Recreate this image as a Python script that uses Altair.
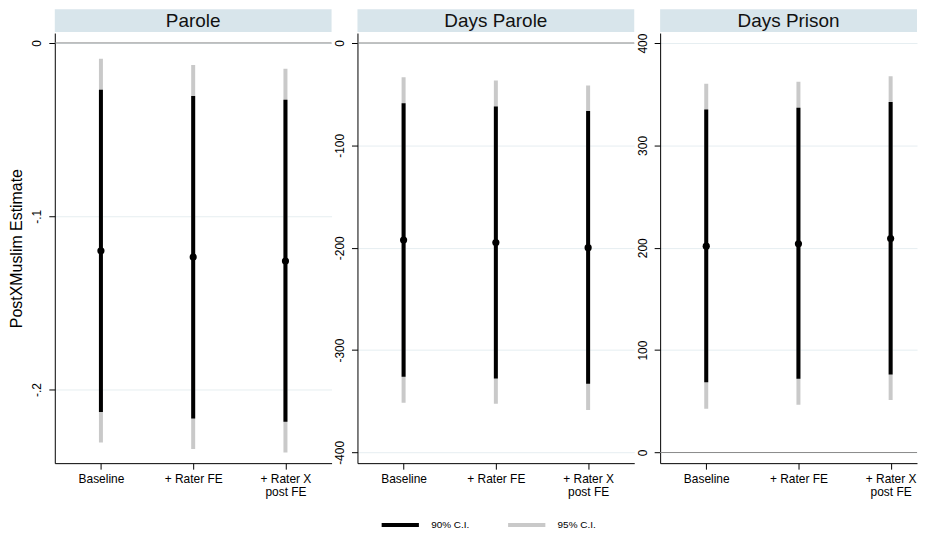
import json
import altair as alt
import pandas as pd

# ---------------- data ----------------
models = ["Baseline", "+ Rater FE", "+ Rater X post FE"]
model_label_lines = ["Baseline", "+ Rater FE", ["+ Rater X", "post FE"]]
outcomes = ["Parole", "Days Parole", "Days Prison"]
ci_levels = ["90% C.I.", "95% C.I."]

parole_est = [-0.1200, -0.1236, -0.1259]
parole_lo90 = [-0.2130, -0.2167, -0.2186]
parole_hi90 = [-0.0270, -0.0307, -0.0328]
parole_lo95 = [-0.2306, -0.2343, -0.2364]
parole_hi95 = [-0.0092, -0.0128, -0.0149]

dparole_est = [-192.6, -194.9, -200.0]
dparole_lo90 = [-326.2, -327.8, -333.0]
dparole_hi90 = [-59.0, -62.0, -66.4]
dparole_lo95 = [-351.5, -352.5, -358.6]
dparole_hi95 = [-33.4, -36.7, -41.5]

dprison_est = [201.6, 203.9, 209.1]
dprison_lo90 = [68.7, 72.0, 76.2]
dprison_hi90 = [335.2, 336.9, 342.4]
dprison_lo95 = [42.8, 46.7, 51.2]
dprison_hi95 = [360.2, 362.2, 367.7]

parole_ticks = [-0.2, -0.1, 0]
dparole_ticks = [-400, -300, -200, -100, 0]
dprison_ticks = [0, 100, 200, 300, 400]

series = {
    "Parole": (parole_est, parole_lo90, parole_hi90, parole_lo95, parole_hi95),
    "Days Parole": (dparole_est, dparole_lo90, dparole_hi90, dparole_lo95, dparole_hi95),
    "Days Prison": (dprison_est, dprison_lo90, dprison_hi90, dprison_lo95, dprison_hi95),
}
ticks = {"Parole": parole_ticks, "Days Parole": dparole_ticks, "Days Prison": dprison_ticks}

# ---------------- styling ----------------
FONT = "Liberation Sans"
HEADER_FILL = "#d8e5eb"
GRID = "#e6eef1"
ZERO = "#8c8c8c"
CI_COLORS = ["#000000", "#c9c9c9"]
PLOT_H = 432
widths = {"Parole": 278, "Days Parole": 278, "Days Prison": 258}
y_domains = {"Parole": [-0.2425, 0.0057], "Days Parole": [-410.5, 9.7], "Days Prison": [-10.4, 409.8]}
x_domains = {"Parole": [-0.5, 2.5], "Days Parole": [-0.5, 2.5], "Days Prison": [-0.5, 2.286]}

x_label_expr = json.dumps(model_label_lines) + "[datum.value]"


def panel(name, first):
    est, lo90, hi90, lo95, hi95 = series[name]
    w = widths[name]
    pts = pd.DataFrame({"idx": list(range(len(models))), "model": models, "est": est})
    rows = []
    for i, m in enumerate(models):
        rows.append({"idx": i, "model": m, "ci": ci_levels[1], "lo": lo95[i], "hi": hi95[i]})
    for i, m in enumerate(models):
        rows.append({"idx": i, "model": m, "ci": ci_levels[0], "lo": lo90[i], "hi": hi90[i]})
    cis = pd.DataFrame(rows)

    if name == "Parole":
        lab = "replace('' + datum.value, '-0.', '-.')"
    else:
        lab = "'' + datum.value"

    yaxis = alt.Axis(
        values=ticks[name], labelExpr=lab,
        title="PostXMuslim Estimate" if first else None,
        titleFontSize=16, titleFontWeight="normal", titleColor="#000", titleFont=FONT,
        titlePadding=6,
        labelAngle=270, labelAlign="center", labelBaseline="bottom",
        labelFontSize=12, labelFont=FONT, labelColor="#000", labelPadding=5,
        tickSize=6, tickColor="#000", domainColor="#000",
        grid=True, gridColor=GRID, gridWidth=1,
    )
    xaxis = alt.Axis(
        values=list(range(len(models))), labelExpr=x_label_expr, title=None,
        labelFontSize=12, labelFont=FONT, labelColor="#000", labelPadding=4,
        labelLineHeight=13, tickSize=6, tickColor="#000", domainColor="#000", grid=False,
    )
    xs = alt.Scale(domain=x_domains[name], nice=False, zero=False)
    ys = alt.Scale(domain=y_domains[name], nice=False, zero=False)

    rules = alt.Chart(cis).mark_rule(strokeWidth=4, strokeCap="butt").encode(
        x=alt.X("idx:Q", scale=xs, axis=xaxis),
        y=alt.Y("lo:Q", scale=ys, axis=yaxis),
        y2="hi:Q",
        color=alt.Color(
            "ci:N",
            scale=alt.Scale(domain=ci_levels, range=CI_COLORS),
            legend=alt.Legend(
                orient="none", legendX=326, legendY=473, direction="horizontal",
                title=None, symbolType="stroke", symbolStrokeWidth=4, symbolSize=1400,
                labelFontSize=10, labelFont=FONT, labelColor="#000",
                columnPadding=30, labelOffset=10, padding=0,
            ),
        ),
    )
    zero = alt.Chart(pd.DataFrame({"z": [0]})).mark_rule(color=ZERO, strokeWidth=1).encode(
        y=alt.Y("z:Q", scale=ys)
    )
    points = alt.Chart(pts).mark_circle(size=52, color="#000", opacity=1).encode(
        x=alt.X("idx:Q", scale=xs), y=alt.Y("est:Q", scale=ys)
    )
    head_df = pd.DataFrame({"t": [name]})
    header = alt.Chart(head_df).mark_rect(color=HEADER_FILL).encode(
        x=alt.value(0), x2=alt.value(w), y=alt.value(-24), y2=alt.value(-1)
    )
    head_text = alt.Chart(head_df).mark_text(
        font=FONT, fontSize=19, color="#111", baseline="middle", align="center"
    ).encode(x=alt.value(w / 2), y=alt.value(-12), text="t:N")

    return alt.layer(zero, rules, points, header, head_text).properties(width=w, height=PLOT_H)


chart = alt.hconcat(
    *[panel(n, i == 0) for i, n in enumerate(outcomes)],
    spacing=26, bounds="flush",
).resolve_scale(x="independent", y="independent", color="shared").properties(
    padding={"left": 1, "top": 0, "right": 0, "bottom": 0}
).configure_view(stroke=None)

chart.save("out.html", embed_options={"renderer": "svg", "actions": False})
